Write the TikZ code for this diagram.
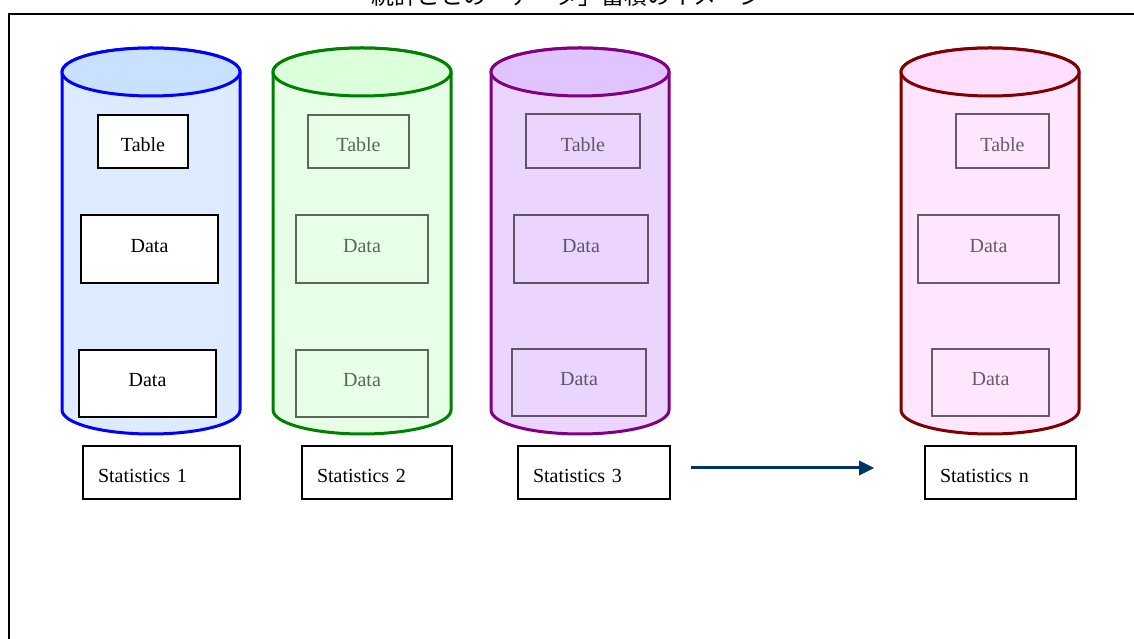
\documentclass[tikz,border=0pt]{standalone}
\usepackage{fontspec}
\setmainfont{Liberation Serif}
\newfontfamily\cjk{Noto Sans CJK JP}
\usetikzlibrary{arrows.meta, positioning, calc}
\definecolor{blueline}{HTML}{0000FF}
\definecolor{bluebody}{HTML}{DCEBFF}
\definecolor{bluetop}{HTML}{C8E1FF}
\definecolor{greenline}{HTML}{008000}
\definecolor{greenbody}{HTML}{E6FFE6}
\definecolor{greentop}{HTML}{DCFFDC}
\definecolor{purpleline}{HTML}{800080}
\definecolor{purplebody}{HTML}{EBD5FF}
\definecolor{purpletop}{HTML}{E0C4FF}
\definecolor{redline}{HTML}{800000}
\definecolor{redbody}{HTML}{FFE6FF}
\definecolor{redtop}{HTML}{FFDEFF}
\definecolor{navy}{HTML}{003366}
\tikzset{
  itembox/.style={
    rectangle, draw=black, line width=1.6pt, fill=white,
    align=center, font=\fontsize{20}{24}\selectfont, inner sep=0pt
  },
  faded/.style={itembox, fill=none, draw opacity=0.6, text opacity=0.6},
  tabletext/.style={text height=20.5pt, text depth=0pt},
  datatext/.style={text depth=6.5pt},
  statbox/.style={
    rectangle, draw=black, line width=1.6pt, minimum height=53pt,
    text width=#1-30pt, inner xsep=15pt, align=left, font=\fontsize{20}{24}\selectfont,
    text height=20.5pt, text depth=0pt
  },
  flow/.style={-{Triangle[length=15pt, width=14pt]}, line width=3pt, draw=navy},
  frame/.style={draw=black, line width=2.5pt}
}

\begin{document}
\begin{tikzpicture}[x=1pt, y=1pt]
    \useasboundingbox (0,0) rectangle (1134,639);
    % title and frame
    \node[font=\cjk\fontsize{23}{26}\selectfont, anchor=base] (title) at (567,634) {統計ごとの「データ」蓄積のイメージ};
    \draw[frame] (9,625) rectangle (1150,-20);
    % cylinders
    \foreach \x/\ln/\bd/\tp in {62/blueline/bluebody/bluetop, 273/greenline/greenbody/greentop,
        491/purpleline/purplebody/purpletop, 901/redline/redbody/redtop}{
      \draw[draw=\ln, fill=\bd, line width=3pt]
        (\x,567) -- (\x,229) arc[start angle=180, end angle=360, x radius=89, y radius=24]
        -- (\x+178,567) arc[start angle=0, end angle=180, x radius=89, y radius=24] -- cycle;
      \draw[draw=\ln, fill=\tp, line width=3pt] (\x+89,567) ellipse[x radius=89, y radius=24];
    }
    % store 1
    \node[itembox, tabletext, minimum width=90pt, minimum height=53pt] (t1) at (143,497.5) {Table};
    \node[itembox, datatext, minimum width=137pt, minimum height=68pt] (d1a) at (149.5,390) {Data};
    \node[itembox, datatext, minimum width=137pt, minimum height=67pt] (d1b) at (147.5,255.5) {Data};
    % store 2
    \node[faded, tabletext, minimum width=101pt, minimum height=53pt] (t2) at (358.5,497.5) {Table};
    \node[faded, datatext, minimum width=132pt, minimum height=68pt] (d2a) at (362,390) {Data};
    \node[faded, datatext, minimum width=132pt, minimum height=67pt] (d2b) at (362,255.5) {Data};
    % store 3
    \node[faded, tabletext, minimum width=114pt, minimum height=54pt] (t3) at (583,498) {Table};
    \node[faded, datatext, minimum width=134pt, minimum height=68pt] (d3a) at (581,390) {Data};
    \node[faded, datatext, minimum width=134pt, minimum height=67pt] (d3b) at (579,256.5) {Data};
    % store n
    \node[faded, tabletext, minimum width=93pt, minimum height=54pt] (tn) at (1002.5,498) {Table};
    \node[faded, datatext, minimum width=141pt, minimum height=68pt] (dna) at (988.5,390) {Data};
    \node[faded, datatext, minimum width=117pt, minimum height=67pt] (dnb) at (990.5,256.5) {Data};
    % statistics labels
    \node[statbox=157pt] (s1) at (161.5,166.5) {Statistics 1};
    \node[statbox=150pt] (s2) at (377,166.5) {Statistics 2};
    \node[statbox=152pt] (s3) at (594,166.5) {Statistics 3};
    \node[statbox=151pt] (sn) at (1000.5,166.5) {Statistics n};
    \draw[flow] ([xshift=20pt, yshift=4.5pt]s3.east) -- ([xshift=-50pt, yshift=4.5pt]sn.west);
\end{tikzpicture}
\end{document}
